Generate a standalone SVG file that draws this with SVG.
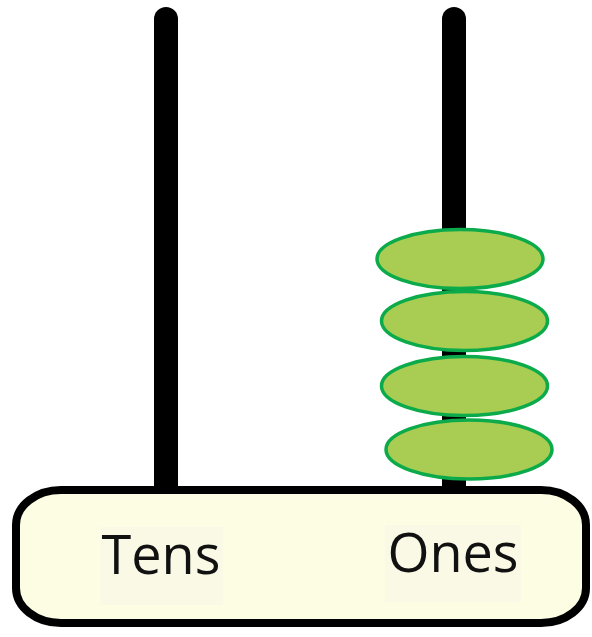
<svg xmlns="http://www.w3.org/2000/svg" width="592" height="637" viewBox="0 0 592 637">
<style>
.rod{stroke:#000;stroke-width:24;stroke-linecap:round;fill:none}
.bead{fill:#A9CC52;stroke:#0BAA4B;stroke-width:3.5}
.lbl{font-family:"Open Sans","Noto Sans",sans-serif;font-size:54px;fill:#111}
.lblbg{fill:#F9F9E6}
</style>
<rect width="592" height="637" fill="#fff"/>
<g id="connectors">
<line id="rod-tens" class="rod" x1="166" y1="19" x2="166" y2="492"/>
<line id="rod-ones" class="rod" x1="454" y1="19" x2="454" y2="492"/>
</g>
<g id="base">
<rect x="16" y="490" width="570" height="133" rx="45" ry="35" fill="#FDFDE3" stroke="#000" stroke-width="8"/>
<rect class="lblbg" x="100" y="527" width="123" height="78"/>
<rect class="lblbg" x="385" y="525" width="136" height="77"/>
<text id="tens" class="lbl" x="161" y="574" text-anchor="middle">Tens</text>
<text id="ones" class="lbl" x="453" y="572" text-anchor="middle">Ones</text>
</g>
<g id="beads">
<ellipse id="bead1" class="bead" cx="460" cy="259" rx="83" ry="29.5"/>
<ellipse id="bead2" class="bead" cx="464.5" cy="321" rx="83" ry="29.5"/>
<ellipse id="bead3" class="bead" cx="464.5" cy="386" rx="83" ry="29.5"/>
<ellipse id="bead4" class="bead" cx="469" cy="449.5" rx="83" ry="29.5"/>
</g>
</svg>
